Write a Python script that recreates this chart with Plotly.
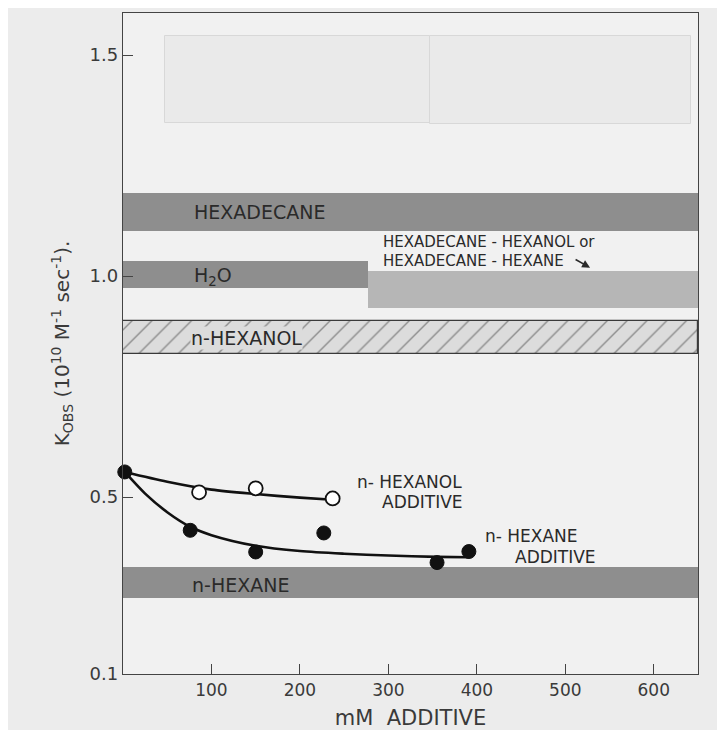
import plotly.graph_objects as go

# ---- data ----
# horizontal reference bands (mM range and k_obs range)
band_names = ["HEXADECANE", "H2O", "HEXADECANE-HEXANOL/HEXANE", "n-HEXANE"]
band_x0 = [0, 0, 277, 0]
band_x1 = [650, 277, 650, 650]
band_y0 = [1.103, 0.972, 0.928, 0.272]
band_y1 = [1.187, 1.035, 1.012, 0.343]
band_colors = ["#8e8e8e", "#8e8e8e", "#b6b6b6", "#8e8e8e"]

# hatched n-hexanol band
hex_band_x0, hex_band_x1 = 0, 650
hex_band_y0, hex_band_y1 = 0.823, 0.899

# faint print-through boxes at the top of the plot
ghost_x0 = [47, 347]
ghost_x1 = [347, 642]
ghost_y0 = [1.347, 1.345]
ghost_y1 = [1.544, 1.542]

# measured points
hexane_add_x = [2, 76, 150, 227, 355, 391]
hexane_add_y = [0.557, 0.425, 0.376, 0.419, 0.352, 0.377]
hexanol_add_x = [86, 150, 237]
hexanol_add_y = [0.511, 0.520, 0.497]

# hand-drawn fit curves
hexanol_fit_x = [2, 50, 100, 150, 200, 237]
hexanol_fit_y = [0.557, 0.535, 0.517, 0.507, 0.499, 0.494]
hexane_fit_x = [2, 25, 50, 76, 100, 150, 200, 250, 300, 355, 391]
hexane_fit_y = [0.557, 0.508, 0.466, 0.433, 0.414, 0.390, 0.378, 0.372, 0.368, 0.365, 0.364]

x_ticks = [100, 200, 300, 400, 500, 600]
y_ticks = [0.1, 0.5, 1.0, 1.5]
y_tick_text = ["0.1", "0.5", "1.0", "1.5"]

FONT = "DejaVu Sans"
INK = "#2a2a2a"
AXIS = "#444444"

fig = go.Figure()

# ghost boxes
for gx0, gx1, gy0, gy1 in zip(ghost_x0, ghost_x1, ghost_y0, ghost_y1):
    fig.add_trace(go.Bar(
        x=[(gx0 + gx1) / 2], width=[gx1 - gx0], base=[gy0], y=[gy1 - gy0],
        marker=dict(color="#eaeaea", line=dict(color="#d8d8d8", width=1)),
        hoverinfo="skip", showlegend=False))

# solid bands
for name, bx0, bx1, by0, by1, col in zip(band_names, band_x0, band_x1, band_y0, band_y1, band_colors):
    fig.add_trace(go.Bar(
        x=[(bx0 + bx1) / 2], width=[bx1 - bx0], base=[by0], y=[by1 - by0],
        marker=dict(color=col, line=dict(width=0)),
        name=name, showlegend=False, hoverinfo="skip"))

# hatched band
fig.add_trace(go.Bar(
    x=[(hex_band_x0 + hex_band_x1) / 2], width=[hex_band_x1 - hex_band_x0],
    base=[hex_band_y0], y=[hex_band_y1 - hex_band_y0],
    marker=dict(color="#dcdcdc",
                line=dict(color="#3a3a3a", width=1.2),
                pattern=dict(shape="/", fgcolor="#3a3a3a", bgcolor="#dcdcdc",
                             size=14, solidity=0.1, fillmode="overlay")),
    name="n-HEXANOL", showlegend=False, hoverinfo="skip"))

# fit curves
fig.add_trace(go.Scatter(x=hexanol_fit_x, y=hexanol_fit_y, mode="lines",
                         line=dict(color="#111", width=2.6, shape="spline", smoothing=0.8),
                         showlegend=False, hoverinfo="skip"))
fig.add_trace(go.Scatter(x=hexane_fit_x, y=hexane_fit_y, mode="lines",
                         line=dict(color="#111", width=2.6, shape="spline", smoothing=0.8),
                         showlegend=False, hoverinfo="skip"))

# points
fig.add_trace(go.Scatter(x=hexanol_add_x, y=hexanol_add_y, mode="markers",
                         marker=dict(symbol="circle", size=14, color="white",
                                     line=dict(color="#111", width=1.8)),
                         name="n-HEXANOL ADDITIVE", showlegend=False, cliponaxis=False))
fig.add_trace(go.Scatter(x=hexane_add_x, y=hexane_add_y, mode="markers",
                         marker=dict(symbol="circle", size=14, color="#111",
                                     line=dict(color="#111", width=1)),
                         name="n-HEXANE ADDITIVE", showlegend=False, cliponaxis=False))

big = dict(family=FONT, size=19, color=INK)
mid = dict(family=FONT, size=15, color=INK)
lab = dict(family=FONT, size=17, color=INK)

annotations = [
    dict(x=78, y=1.145, text="HEXADECANE", xanchor="left", yanchor="middle", font=big),
    dict(x=78, y=1.0, text="H<sub>2</sub>O", xanchor="left", yanchor="middle", font=big),
    dict(x=76, y=0.861, text="n-HEXANOL", xanchor="left", yanchor="middle", font=big,
         bgcolor="#dcdcdc", borderpad=0),
    dict(x=76, y=0.302, text="n-HEXANE", xanchor="left", yanchor="middle", font=big),
    dict(x=292, y=1.077, text="HEXADECANE - HEXANOL or", xanchor="left", yanchor="middle", font=mid),
    dict(x=292, y=1.034, text="HEXADECANE - HEXANE", xanchor="left", yanchor="middle", font=mid),
    dict(x=262, y=0.535, text="n- HEXANOL", xanchor="left", yanchor="middle", font=lab),
    dict(x=290, y=0.489, text="ADDITIVE", xanchor="left", yanchor="middle", font=lab),
    dict(x=407, y=0.412, text="n- HEXANE", xanchor="left", yanchor="middle", font=lab),
    dict(x=441, y=0.365, text="ADDITIVE", xanchor="left", yanchor="middle", font=lab),
]
for a in annotations:
    a.update(xref="x", yref="y", showarrow=False)
# arrow next to "HEXADECANE - HEXANE"
annotations.append(dict(x=528, y=1.019, xref="x", yref="y", ax=-16, ay=-9,
                        showarrow=True, arrowhead=2, arrowsize=1, arrowwidth=1.6,
                        arrowcolor=INK, text=""))

# the page body has an 8 px margin, so the figure is sized to fit inside it
fig.update_layout(
    width=709, height=722,
    margin=dict(l=115, r=19, t=5, b=56, autoexpand=False),
    paper_bgcolor="#ececec", plot_bgcolor="#f1f1f1",
    barmode="overlay", bargap=0,
    showlegend=False,
    annotations=annotations,
    font=dict(family=FONT, color=INK),
)
fig.update_xaxes(
    range=[0, 650], tickvals=x_ticks, ticks="inside", ticklen=10, tickwidth=1.3,
    tickcolor=AXIS, showline=True, linecolor=AXIS, linewidth=1.3, mirror=True,
    showgrid=False, zeroline=False, automargin=False,
    tickfont=dict(family=FONT, size=17, color="#3a3a3a"),
    title=dict(text="mM\u00a0\u00a0ADDITIVE", font=dict(family=FONT, size=21, color="#3a3a3a"),
               standoff=15),
)
fig.update_yaxes(
    range=[0.1, 1.595], tickvals=y_ticks, ticktext=y_tick_text, ticks="inside",
    ticklen=10, tickwidth=1.3, tickcolor=AXIS, showline=True, linecolor=AXIS,
    linewidth=1.3, mirror=True, showgrid=False, zeroline=False, automargin=False,
    tickfont=dict(family=FONT, size=18, color="#3a3a3a"),
    title=dict(text="K<sub>OBS</sub> (10<sup>10</sup> M<sup>-1</sup> sec<sup>-1</sup>).",
               font=dict(family=FONT, size=20, color="#3a3a3a"), standoff=14),
)

fig.write_html("out.html")
